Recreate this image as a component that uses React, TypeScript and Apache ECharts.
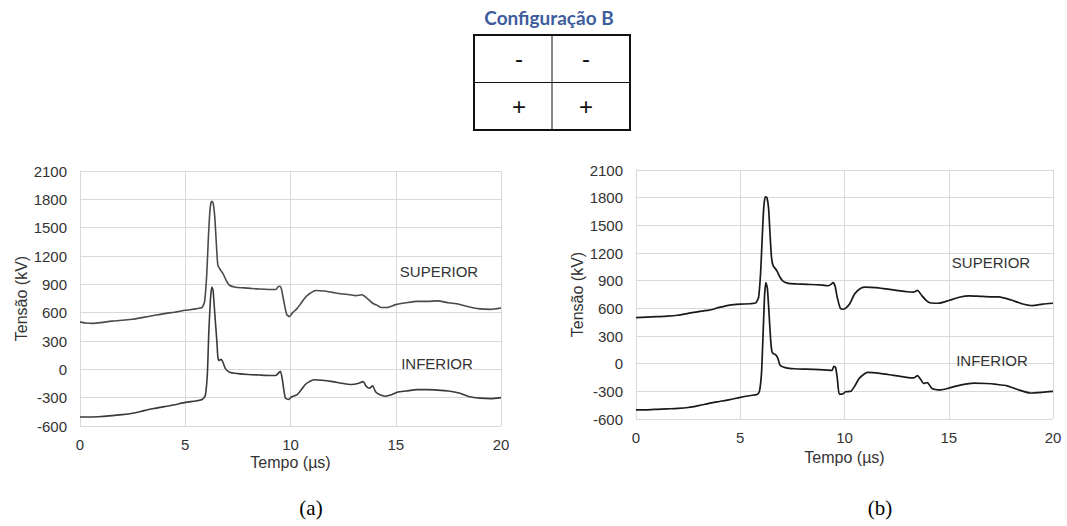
import React, { useEffect, useRef } from "react";
import * as echarts from "echarts";

// ---- Data (kV vs µs) ----
const xTicks = [0, 5, 10, 15, 20];
const yTicks = [-600, -300, 0, 300, 600, 900, 1200, 1500, 1800, 2100];

const tASup = [0, 0.3, 0.6, 1.0, 1.5, 2.0, 2.5, 3.0, 3.5, 4.0, 4.5, 5.0, 5.5, 5.8, 5.92, 6.02, 6.1, 6.18, 6.25, 6.32, 6.4, 6.48, 6.55, 6.65, 6.8, 6.95, 7.1, 7.4, 8.0, 8.5, 9.0, 9.3, 9.42, 9.5, 9.58, 9.7, 9.82, 9.95, 10.1, 10.3, 10.5, 10.7, 10.9, 11.2, 11.6, 12.0, 12.4, 12.8, 13.1, 13.4, 13.55, 13.7, 13.9, 14.1, 14.3, 14.6, 15.0, 15.5, 16.0, 16.5, 17.0, 17.5, 18.0, 18.5, 19.0, 19.5, 20.0];
const vASup = [500, 490, 487, 495, 510, 520, 530, 550, 570, 590, 605, 625, 640, 655, 720, 1000, 1400, 1700, 1780, 1765, 1620, 1320, 1100, 1060, 1010, 940, 890, 870, 860, 850, 845, 845, 875, 880, 840, 700, 580, 560, 600, 640, 700, 760, 800, 835, 830, 815, 800, 790, 780, 790, 770, 740, 700, 680, 655, 655, 685, 705, 720, 720, 725, 705, 690, 660, 640, 635, 650];

const tAInf = [0, 0.5, 1.0, 1.5, 2.0, 2.5, 3.0, 3.5, 4.0, 4.5, 5.0, 5.5, 5.8, 5.95, 6.05, 6.12, 6.2, 6.26, 6.32, 6.4, 6.5, 6.55, 6.6, 6.7, 6.8, 6.9, 7.1, 7.5, 8.0, 8.5, 9.0, 9.3, 9.45, 9.52, 9.6, 9.75, 9.9, 10.05, 10.3, 10.5, 10.7, 10.9, 11.1, 11.5, 12.0, 12.5, 12.9, 13.2, 13.45, 13.6, 13.75, 13.9, 14.05, 14.25, 14.5, 14.8, 15.1, 15.5, 16.0, 16.5, 17.0, 17.5, 18.0, 18.5, 19.0, 19.5, 20.0];
const vAInf = [-505, -505, -500, -490, -480, -465, -440, -415, -395, -375, -350, -335, -320, -280, -50, 400, 750, 870, 840, 600, 300, 130, 95, 105, 70, 10, -30, -45, -55, -60, -65, -65, -35, -20, -90, -300, -320, -290, -270, -220, -160, -130, -110, -115, -130, -150, -160, -150, -130, -180, -200, -175, -240, -270, -285, -270, -240, -230, -215, -215, -220, -230, -250, -290, -305, -310, -300];

const tBSup = [0, 0.5, 1.0, 1.5, 2.0, 2.5, 3.0, 3.5, 4.0, 4.5, 5.0, 5.5, 5.75, 5.88, 5.98, 6.06, 6.13, 6.2, 6.28, 6.36, 6.43, 6.5, 6.58, 6.75, 6.9, 7.05, 7.3, 7.7, 8.2, 8.8, 9.2, 9.35, 9.45, 9.55, 9.65, 9.8, 9.95, 10.1, 10.25, 10.5, 10.8, 11.0, 11.5, 12.0, 12.5, 13.0, 13.3, 13.5, 13.7, 13.9, 14.1, 14.5, 15.0, 15.5, 16.0, 16.5, 17.0, 17.4, 18.0, 18.5, 19.0, 19.5, 20.0];
const vBSup = [500, 505, 510, 515, 525, 545, 565, 580, 610, 635, 645, 650, 660, 720, 1000, 1400, 1700, 1810, 1800, 1680, 1400, 1150, 1060, 1010, 940, 895, 870, 865, 860, 855, 845, 860, 880, 840, 720, 600, 590, 610, 650, 760, 820, 830, 825, 810, 795, 780, 775, 795, 740, 690, 660, 655, 685, 720, 735, 730, 725, 725, 690, 650, 630, 645, 655];

const tBInf = [0, 0.5, 1.0, 1.5, 2.0, 2.5, 3.0, 3.5, 4.0, 4.5, 5.0, 5.5, 5.8, 5.92, 6.02, 6.1, 6.17, 6.23, 6.3, 6.38, 6.46, 6.52, 6.58, 6.68, 6.8, 6.92, 7.2, 7.6, 8.2, 8.8, 9.2, 9.4, 9.49, 9.57, 9.65, 9.75, 9.9, 10.05, 10.3, 10.5, 10.7, 10.9, 11.1, 11.7, 12.3, 12.9, 13.33, 13.5, 13.65, 13.8, 13.97, 14.2, 14.6, 15.0, 15.6, 16.2, 16.8, 17.3, 17.8, 18.3, 18.9, 19.5, 20.0];
const vBInf = [-500, -500, -495, -490, -485, -475, -455, -430, -410, -390, -365, -345, -335, -300, -100, 350, 750, 880, 820, 550, 250, 130, 110, 100, 60, -20, -45, -55, -60, -65, -70, -72, -30, -40, -150, -330, -330, -305, -300, -240, -160, -120, -95, -105, -125, -145, -155, -130, -170, -215, -205, -270, -285, -265, -230, -210, -215, -225, -240, -280, -318, -310, -300];

const tableSigns = [["-", "-"], ["+", "+"]];
const titleText = "Configuração B";
const seriesLabels = ["SUPERIOR", "INFERIOR"];
const panelLabels = ["(a)", "(b)"];

const zip = (t: number[], v: number[]) => t.map((x, i) => [x, v[i]]);

const FONT = "'Liberation Sans', Arial, sans-serif";
const GRID_COLOR = "#d9d9d9";
const TEXT_COLOR = "#333333";

function makeX(gridIndex: number, nameGap: number, margin: number) {
  return {
    type: "value",
    gridIndex,
    min: xTicks[0],
    max: xTicks[xTicks.length - 1],
    interval: 5,
    name: "Tempo (µs)",
    nameLocation: "middle",
    nameGap,
    nameTextStyle: { fontFamily: FONT, fontSize: 16, color: TEXT_COLOR },
    axisLine: { show: true, lineStyle: { color: GRID_COLOR } },
    axisTick: { show: false },
    axisLabel: { fontFamily: FONT, fontSize: 15, color: TEXT_COLOR, margin, formatter: (v: number) => String(v) },
    splitLine: { show: true, lineStyle: { color: GRID_COLOR, width: 1 } },
  };
}

function makeY(gridIndex: number) {
  return {
    type: "value",
    gridIndex,
    min: yTicks[0],
    max: yTicks[yTicks.length - 1],
    interval: 300,
    name: "Tensão (kV)",
    nameLocation: "middle",
    nameGap: 49,
    nameTextStyle: { fontFamily: FONT, fontSize: 16, color: TEXT_COLOR },
    axisLine: { show: true, lineStyle: { color: GRID_COLOR } },
    axisTick: { show: false },
    axisLabel: { fontFamily: FONT, fontSize: 15, color: TEXT_COLOR, margin: 13, formatter: (v: number) => String(v) },
    splitLine: { show: true, lineStyle: { color: GRID_COLOR, width: 1 } },
  };
}

function lineSeries(data: number[][], idx: number, color: string, width: number) {
  return {
    type: "line",
    xAxisIndex: idx,
    yAxisIndex: idx,
    data,
    showSymbol: false,
    smooth: 0.2,
    lineStyle: { color, width },
    silent: true,
  };
}

function text(x: number, y: number, t: string, size: number, extra: any = {}) {
  return {
    type: "text",
    x,
    y,
    z: 100,
    style: {
      text: t,
      fontSize: size,
      fontFamily: FONT,
      fill: TEXT_COLOR,
      align: "center",
      verticalAlign: "middle",
      ...extra,
    },
  };
}

export default function App() {
  const ref = useRef<HTMLDivElement>(null);
  useEffect(() => {
    if (!ref.current) return;
    const chart = echarts.init(ref.current, undefined, { renderer: "svg" });
    const tx0 = 474, ty0 = 35, tw = 156, th = 95;
    const cellW = tw / 2, cellH = th / 2;
    const signX = [519, 586];
    const signY = [58, 106];
    const signs: any[] = [];
    tableSigns.forEach((row, r) =>
      row.forEach((s, c) => {
        signs.push(text(signX[c], signY[r], s, 24, { fill: "#111" }));
      })
    );
    chart.setOption({
      animation: false,
      backgroundColor: "#ffffff",
      grid: [
        { left: 80, top: 171, width: 421, height: 255 },
        { left: 636, top: 170, width: 417, height: 249 },
      ],
      xAxis: [makeX(0, 28, 11), makeX(1, 30, 11)],
      yAxis: [makeY(0), makeY(1)],
      series: [
        lineSeries(zip(tASup, vASup), 0, "#4a4a4a", 1.6),
        lineSeries(zip(tAInf, vAInf), 0, "#3a3a3a", 1.6),
        lineSeries(zip(tBSup, vBSup), 1, "#1a1a1a", 1.7),
        lineSeries(zip(tBInf, vBInf), 1, "#1a1a1a", 1.7),
      ],
      graphic: [
        text(549, 17, titleText, 19, { fontFamily: "Lato, 'Noto Sans', sans-serif", fontWeight: "bold", fill: "#3e5c9e" }),
        {
          type: "rect",
          z: 100,
          shape: { x: tx0, y: ty0, width: tw, height: th },
          style: { fill: "none", stroke: "#111", lineWidth: 2 },
        },
        {
          type: "line",
          z: 100,
          shape: { x1: tx0 + cellW, y1: ty0, x2: tx0 + cellW, y2: ty0 + th },
          style: { stroke: "#111", lineWidth: 1 },
        },
        {
          type: "line",
          z: 100,
          shape: { x1: tx0, y1: ty0 + cellH, x2: tx0 + tw, y2: ty0 + cellH },
          style: { stroke: "#111", lineWidth: 1 },
        },
        ...signs,
        text(439, 271, seriesLabels[0], 15),
        text(437, 363, seriesLabels[1], 15),
        text(991, 262, seriesLabels[0], 15),
        text(992, 360, seriesLabels[1], 15),
        text(311, 508, panelLabels[0], 21, { fontFamily: "'Liberation Serif', 'Times New Roman', serif", fill: "#000" }),
        text(880, 508, panelLabels[1], 21, { fontFamily: "'Liberation Serif', 'Times New Roman', serif", fill: "#000" }),
      ],
    });
    return () => chart.dispose();
  }, []);
  return (
    <div
      ref={ref}
      style={{ position: "absolute", left: 0, top: 0, width: 1067, height: 526 }}
    />
  );
}
